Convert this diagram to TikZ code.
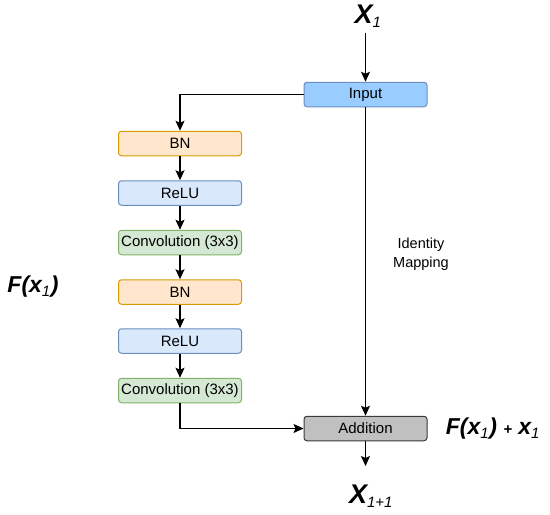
\documentclass[tikz,border=0pt]{standalone}
\usepackage{fontspec}
\setmainfont{Liberation Sans}
\usetikzlibrary{arrows.meta}
\definecolor{inpfill}{HTML}{99CCFF}
\definecolor{inpdraw}{HTML}{6C8EBF}
\definecolor{bnfill}{HTML}{FFE6CC}
\definecolor{bndraw}{HTML}{D79B00}
\definecolor{relufill}{HTML}{DAE8FC}
\definecolor{reludraw}{HTML}{6C8EBF}
\definecolor{convfill}{HTML}{D5E8D4}
\definecolor{convdraw}{HTML}{82B366}
\definecolor{addfill}{HTML}{C0C0C0}
\definecolor{adddraw}{HTML}{36393D}
\newcommand{\sbs}[1]{\textsubscript{\normalfont\itshape\fontsize{15}{15}\selectfont #1}}
\tikzset{
  box/.style={rectangle, rounded corners=3pt, minimum width=123pt, minimum height=24.5pt, inner sep=0pt, font=\fontsize{15}{16}\selectfont, line width=1pt},
  inp/.style={box, fill=inpfill, draw=inpdraw},
  bn/.style={box, fill=bnfill, draw=bndraw},
  relu/.style={box, fill=relufill, draw=reludraw},
  conv/.style={box, fill=convfill, draw=convdraw},
  add/.style={box, fill=addfill, draw=adddraw},
  arr/.style={-{Stealth[length=10pt,width=9pt,inset=2pt]}, line width=1.2pt},
  lbl/.style={font=\fontsize{23}{25}\selectfont\bfseries\itshape},
  biglbl/.style={font=\fontsize{27}{29}\selectfont\bfseries\itshape},
  note/.style={font=\fontsize{14.5}{19}\selectfont, align=center}
}
\begin{document}
\begin{tikzpicture}[x=1pt,y=-1pt]
\useasboundingbox (0,0) rectangle (550,515);
\node[inp] (input) at (365.5,94.5) {Input};
\node[bn] (bn1) at (180,143.5) {BN};
\node[relu] (relu1) at (180,193) {ReLU};
\node[conv] (conv1) at (180,242.5) {Convolution (3x3)};
\node[bn] (bn2) at (180,292) {BN};
\node[relu] (relu2) at (180,341) {ReLU};
\node[conv] (conv2) at (180,390.5) {Convolution (3x3)};
\node[add] (add) at (365.5,428.5) {Addition};
\node[biglbl] (xin) at (368,16) {X\sbs{1}};
\node[biglbl] (xout) at (371,496) {X\sbs{1+1}};
\node[lbl] (fx) at (33,287) {F(x\sbs{1})};
\node[lbl] (fxx) at (493,429) {F(x\sbs{1}) {\fontsize{15}{15}\selectfont +} x\sbs{1}};
\node[note] (idm) at (421,254) {Identity\\Mapping};
\coordinate (top) at (365.5,33);
\coordinate (bot) at (365.5,466);
\draw[arr] (top) -- (input.north);
\draw[arr] (input.west) -| (bn1.north);
\draw[arr] (bn1) -- (relu1);
\draw[arr] (relu1) -- (conv1);
\draw[arr] (conv1) -- (bn2);
\draw[arr] (bn2) -- (relu2);
\draw[arr] (relu2) -- (conv2);
\draw[arr] (conv2.south) |- (add.west);
\draw[arr] (input.south) -- (add.north);
\draw[arr] (add.south) -- (bot);
\end{tikzpicture}
\end{document}
